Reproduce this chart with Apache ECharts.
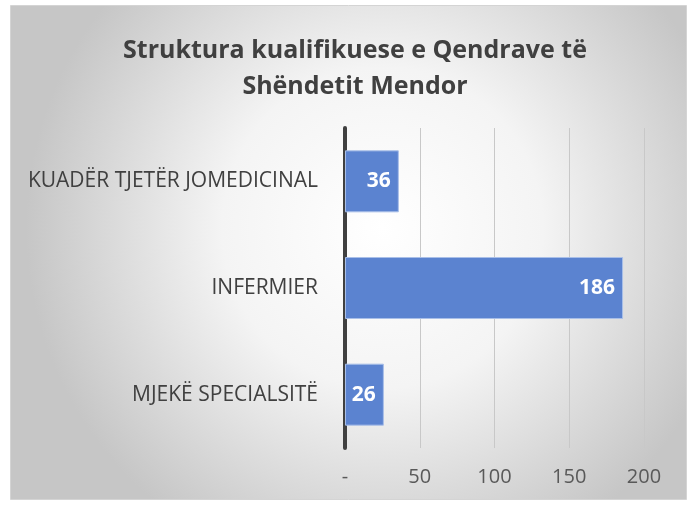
<!DOCTYPE html>
<html>
<head>
<meta charset="utf-8">
<script src="https://cdn.jsdelivr.net/npm/echarts@6/dist/echarts.min.js"></script>
<style>
  html, body { margin: 0; padding: 0; background: #fff; }
  #chart { width: 694px; height: 505px; }
</style>
</head>
<body>
<div id="chart"></div>
<script>
// data (bottom to top)
const categories = ["MJEKË SPECIALSITË", "INFERMIER", "KUADËR TJETËR JOMEDICINAL"];
const values = [26, 186, 36];
const xTicks = ["-", "50", "100", "150", "200"];

const font = "'Open Sans', sans-serif";
const chart = echarts.init(document.getElementById("chart"));

chart.setOption({
    backgroundColor: "#ffffff",
    animation: false,
    graphic: [
        {
            type: "rect",
            z: -10,
            shape: { x: 10.5, y: 5.5, width: 676, height: 494 },
            style: {
                fill: new echarts.graphic.RadialGradient(0.55, 0.45, 0.72, [
                    { offset: 0, color: "#ffffff" },
                    { offset: 0.45, color: "#f4f4f4" },
                    { offset: 1, color: "#c6c6c6" },
                ]),
                stroke: "#d4d4d4",
                lineWidth: 1,
            },
        },
    ],
    title: {
        text: "Struktura kualifikuese e Qendrave të\nShëndetit Mendor",
        left: 350,
        textAlign: "center",
        top: 28,
        textStyle: {
            fontFamily: font,
            fontWeight: "bold",
            fontSize: 25,
            color: "#404040",
            lineHeight: 36,
        },
    },
    grid: {
        left: 345,
        right: 50,
        top: 128,
        bottom: 57,
    },
    xAxis: {
        type: "value",
        min: 0,
        max: 200,
        interval: 50,
        axisLine: { show: false },
        axisTick: { show: false },
        splitLine: { lineStyle: { color: "#c8c8c8", width: 1 } },
        axisLabel: {
            margin: 19,
            fontFamily: font,
            fontSize: 20,
            color: "#595959",
            formatter: (v) => xTicks[v / 50],
        },
    },
    yAxis: {
        type: "category",
        data: categories,
        axisLine: { lineStyle: { color: "#404040", width: 4 } },
        axisTick: { show: false },
        axisLabel: {
            margin: 27,
            fontFamily: font,
            fontSize: 21,
            color: "#404040",
        },
    },
    series: [
        {
            type: "bar",
            data: values,
            barWidth: 62,
            itemStyle: {
                color: "#5b83d0",
                borderColor: "#a9bfe8",
                borderWidth: 1,
            },
            label: {
                show: true,
                position: "insideRight",
                distance: 8,
                fontFamily: font,
                fontWeight: "bold",
                fontSize: 21,
                color: "#ffffff",
            },
        },
    ],
});
</script>
</body>
</html>
